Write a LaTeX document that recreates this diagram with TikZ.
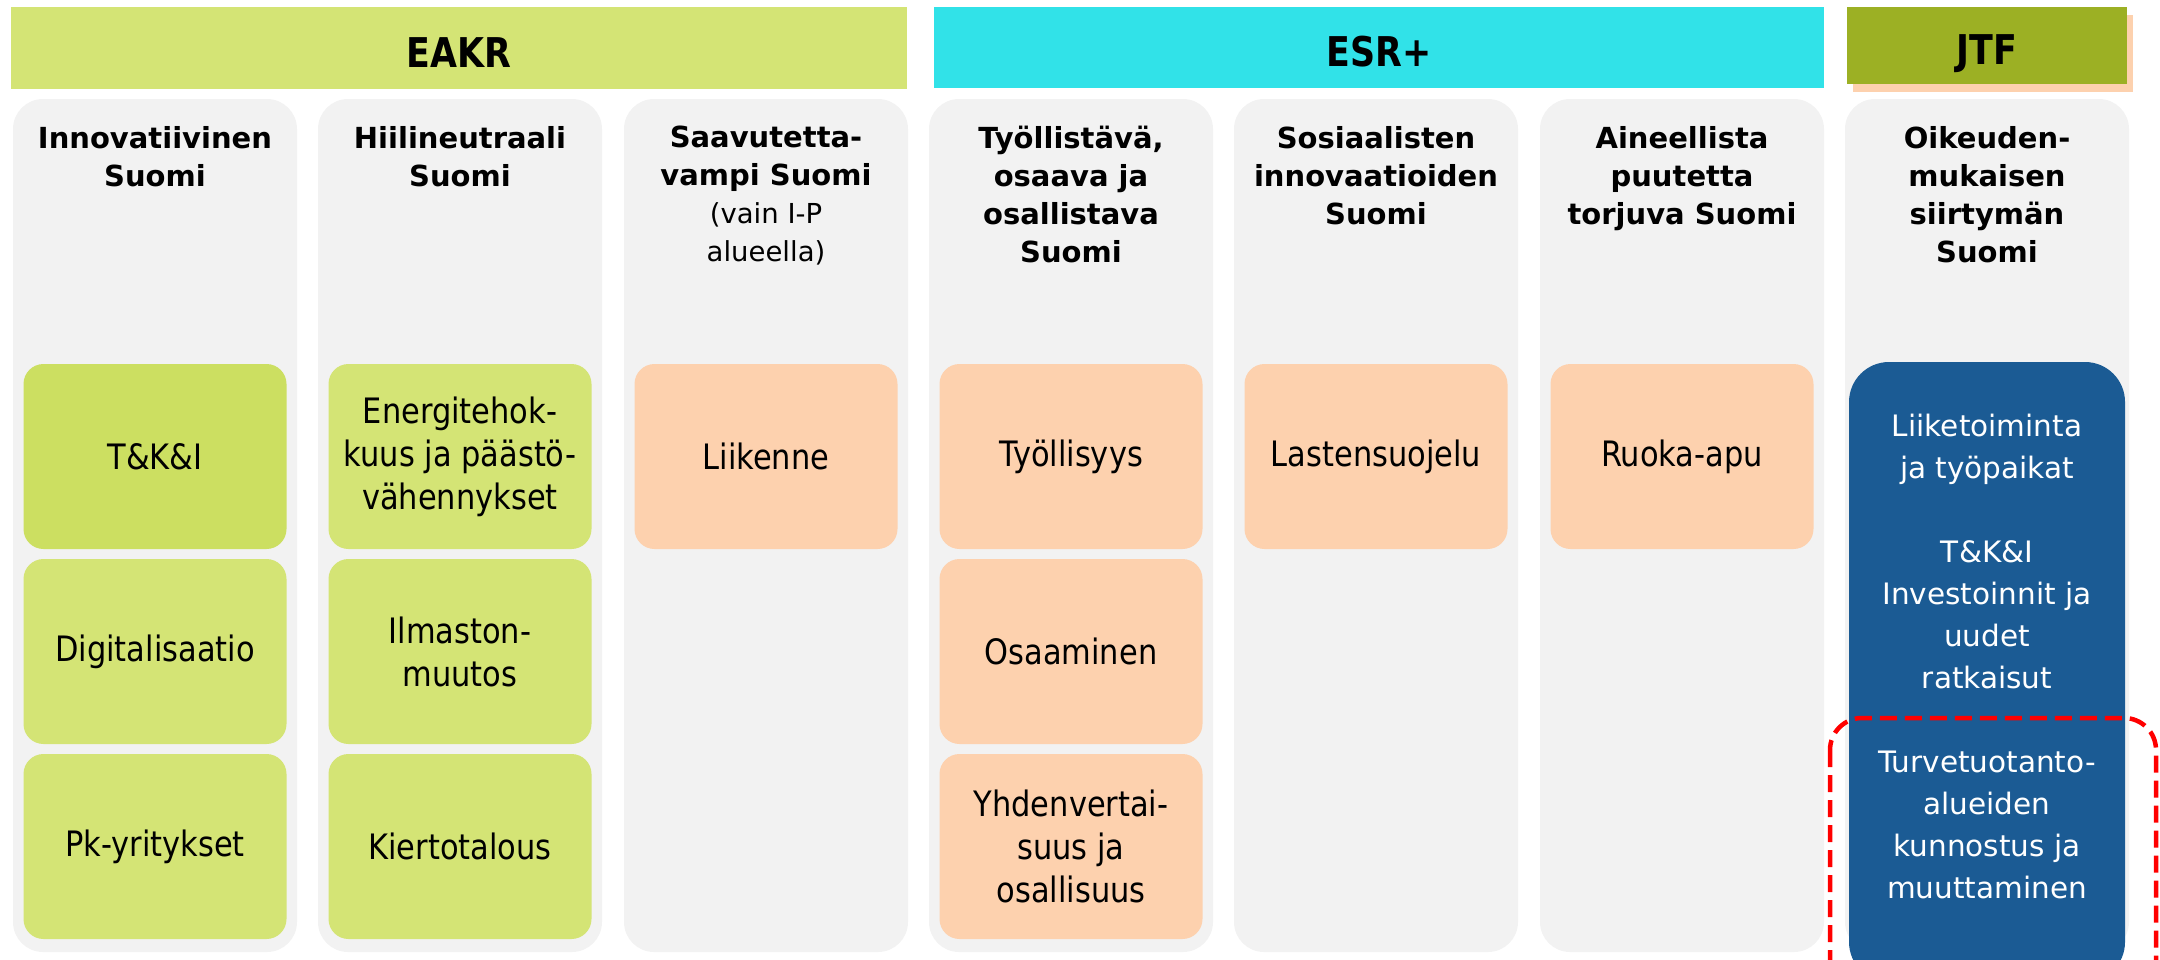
\documentclass[tikz,border=0pt]{standalone}
\usepackage{fontspec}
\setmainfont{DejaVu Sans}
\newfontfamily\boxfont{DejaVu Sans}[FakeStretch=0.87]
\newfontfamily\headfont{DejaVu Sans}[FakeStretch=0.85]
\usetikzlibrary{positioning,shadows}
\definecolor{eakrgreen}{RGB}{212,228,117}
\definecolor{tkigreen}{RGB}{204,223,97}
\definecolor{esrcyan}{RGB}{49,226,232}
\definecolor{jtfolive}{RGB}{156,176,36}
\definecolor{peach}{RGB}{253,209,174}
\definecolor{panelgrey}{RGB}{242,242,242}
\definecolor{jtfblue}{RGB}{27,91,148}
\newcommand\regline[1]{{\mdseries\fontsize{27.5}{38}\selectfont #1}}
\begin{document}
\begin{tikzpicture}[x=1pt,y=-1pt,
    header/.style={inner sep=0pt,outer sep=0pt,text height=38pt,text depth=0pt,font=\headfont\bfseries\fontsize{41}{41}\selectfont},
    panel/.style={fill=panelgrey,rounded corners=30pt,minimum width=284pt,minimum height=853pt,inner sep=0pt,outer sep=0pt,anchor=north},
    title/.style={align=center,inner sep=0pt,outer sep=0pt,font=\bfseries\fontsize{29}{38}\selectfont},
    item/.style={fill=eakrgreen,rounded corners=20pt,minimum width=263pt,minimum height=185pt,inner sep=0pt,outer sep=0pt,align=center,font=\boxfont\fontsize{35}{43}\selectfont},
    esritem/.style={item,fill=peach},
    jtfitem/.style={fill=jtfblue,rounded corners=40pt,minimum width=276pt,minimum height=620pt,inner sep=0pt,outer sep=0pt},
    jtftext/.style={align=center,inner sep=0pt,text=white,font=\fontsize{29.5}{42}\selectfont},
    focus/.style={red,line width=4.5pt,dash pattern=on 17pt off 8pt,rounded corners=32pt}]
    \useasboundingbox (0,0) rectangle (2160,959);
    % rahastot
    \node[header,fill=eakrgreen,minimum width=896pt,minimum height=82pt] (eakr) at (459,48) {EAKR};
    \node[header,fill=esrcyan,minimum width=890pt,minimum height=81pt] (esr) at (1379,47.5) {ESR+};
    \node[header,fill=jtfolive,minimum width=280pt,minimum height=77pt,
        drop shadow={fill=peach,opacity=1,shadow xshift=6pt,shadow yshift=-8pt}] (jtf) at (1987,45.5) {JTF};
    % palstat
    \node[panel] (p1) at (155,99) {};
    \node[panel] (p2) at (460,99) {};
    \node[panel] (p3) at (766,99) {};
    \node[panel] (p4) at (1071,99) {};
    \node[panel] (p5) at (1376,99) {};
    \node[panel] (p6) at (1682,99) {};
    \node[panel] (p7) at (1987,99) {};
    \node[title,below=27pt of p1.north] (t1) {Innovatiivinen\\Suomi};
    \node[title,below=27pt of p2.north] (t2) {Hiilineutraali\\Suomi};
    \node[title,below=27pt of p3.north] (t3) {Saavutetta-\\vampi Suomi\\\regline{(vain I-P}\\\regline{alueella)}};
    \node[title,below=27pt of p4.north] (t4) {Työllistävä,\\osaava ja\\osallistava\\Suomi};
    \node[title,below=27pt of p5.north] (t5) {Sosiaalisten\\innovaatioiden\\Suomi};
    \node[title,below=27pt of p6.north] (t6) {Aineellista\\puutetta\\torjuva Suomi};
    \node[title,below=27pt of p7.north] (t7) {Oikeuden-\\mukaisen\\siirtymän\\Suomi};
    % EAKR
    \node[item,fill=tkigreen,below=265pt of p1.north] (tki) {T\&K\&I};
    \node[item,below=10pt of tki] (digi) {Digitalisaatio};
    \node[item,below=10pt of digi] (pk) {Pk-yritykset};
    \node[item,below=265pt of p2.north] (energia) {Energitehok-\\kuus ja päästö-\\vähennykset};
    \node[item,below=10pt of energia] (ilmasto) {Ilmaston-\\muutos};
    \node[item,below=10pt of ilmasto] (kierto) {Kiertotalous};
    \node[esritem,below=265pt of p3.north] (liikenne) {Liikenne};
    % ESR+
    \node[esritem,below=265pt of p4.north] (tyollisyys) {Työllisyys};
    \node[esritem,below=10pt of tyollisyys] (osaaminen) {Osaaminen};
    \node[esritem,below=10pt of osaaminen] (yhdenvert) {Yhdenvertai-\\suus ja\\osallisuus};
    \node[esritem,below=265pt of p5.north] (lastensuojelu) {Lastensuojelu};
    \node[esritem,below=265pt of p6.north] (ruoka) {Ruoka-apu};
    % JTF
    \node[jtfitem,below=263pt of p7.north] (jtfbox) {};
    \node[jtftext] (jtfitems) at ([yshift=-294pt]jtfbox.north) {Liiketoiminta\\ja työpaikat\\[42pt]T\&K\&I\\Investoinnit ja\\uudet\\ratkaisut\\[42pt]Turvetuotanto-\\alueiden\\kunnostus ja\\muuttaminen};
    \draw[focus] (1830,718) rectangle (2156,1012);
\end{tikzpicture}
\end{document}
